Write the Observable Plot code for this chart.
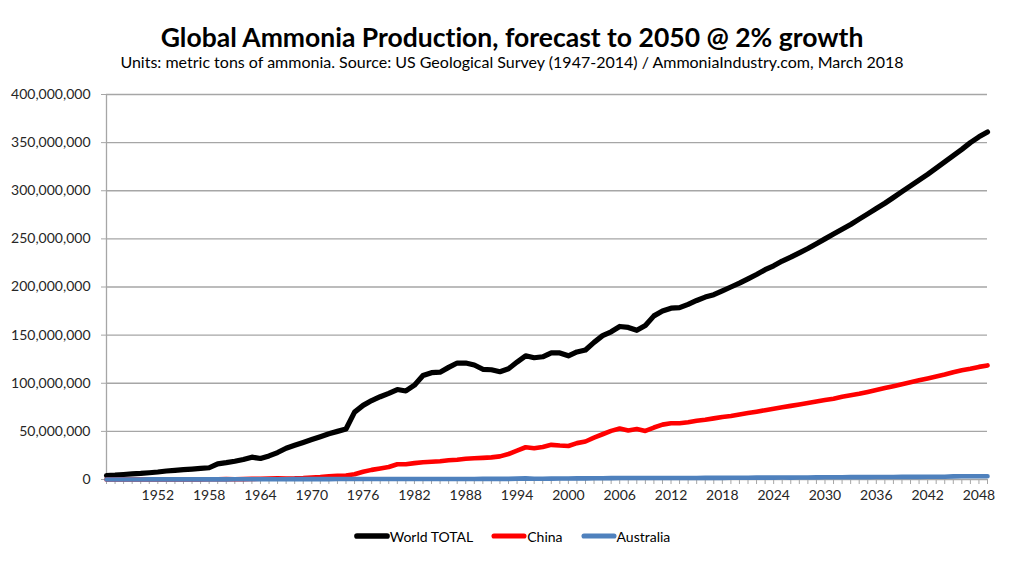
<!DOCTYPE html>
<html>
<head>
<meta charset="utf-8">
<script src="https://cdn.jsdelivr.net/npm/d3@7"></script>
<script src="https://cdn.jsdelivr.net/npm/@observablehq/plot@0.6"></script>
<style>
  html, body { margin: 0; padding: 0; background: #fff; }
  body { width: 1024px; height: 564px; overflow: hidden; font-family: Lato, "Open Sans", sans-serif; color: #000; font-variant-ligatures: none; }
  #header { position: relative; height: 78px; }
  #title { position: absolute; left: 0; right: 0; top: 22px; text-align: center; font-weight: bold; font-size: 26.5px; line-height: 30px; }
  #subtitle { position: absolute; left: 0; right: 0; top: 52px; text-align: center; font-size: 16px; line-height: 20px; }
  #chart svg { display: block; font-variant-ligatures: none; }
  #legend { display: flex; justify-content: center; align-items: center; gap: 18px; height: 36px; font-size: 14px; margin-top: 0px; }
  .item { display: flex; align-items: center; }
  .item svg { display: block; }
</style>
</head>
<body>
<div id="header">
  <div id="title">Global Ammonia Production, forecast to 2050 @ 2% growth</div>
  <div id="subtitle">Units: metric tons of ammonia. Source: US Geological Survey (1947-2014) / AmmoniaIndustry.com, March 2018</div>
</div>
<div id="chart"></div>
<div id="legend"></div>
<script>
// Categories: one per year on the axis
const firstYear = 1946;
const lastYear = 2049;
const years = d3.range(firstYear, lastYear + 1);

// Tick labels
const xTickLabels = [1952, 1958, 1964, 1970, 1976, 1982, 1988, 1994, 2000, 2006, 2012, 2018, 2024, 2030, 2036, 2042, 2048];
const yTicks = [0, 50000000, 100000000, 150000000, 200000000, 250000000, 300000000, 350000000, 400000000];

// Series (millions of metric tons), 1946..2049
const worldTotal = [
  4.0, 4.5, 5.2, 5.8, 6.3, 7.0, 7.8, 8.8, 9.5, 10.2,
  10.8, 11.5, 12.2, 16.3, 17.5, 19.0, 20.8, 23.2, 21.8, 24.5,
  28.0, 32.5, 35.5, 38.5, 41.5, 44.5, 47.5, 50.0, 52.5, 70.0,
  77.0, 82.0, 86.0, 89.5, 93.5, 92.0, 98.0, 108.0, 111.0, 111.5,
  116.5, 121.0, 121.0, 119.0, 114.5, 114.0, 112.0, 115.0, 122.0, 128.5,
  126.5, 127.5, 131.5, 131.5, 128.5, 132.5, 134.5, 142.5, 149.5, 153.5,
  159.0, 158.0, 155.0, 160.0, 170.0, 175.0, 178.0, 178.5, 182.0, 186.0,
  189.5, 192.0, 196.0, 200.0, 204.0, 208.5, 213.0, 218.0, 222.0, 227.0,
  231.0, 235.5, 240.0, 245.0, 250.0, 255.0, 260.0, 265.0, 270.5, 276.0,
  281.5, 287.0, 293.0, 299.0, 305.0, 311.0, 317.0, 323.5, 330.0, 336.5,
  343.0, 350.0, 356.0, 361.0
];
const china = [
  0, 0, 0.01, 0.01, 0.02, 0.03, 0.04, 0.05, 0.06, 0.08,
  0.1, 0.15, 0.2, 0.3, 0.4, 0.3, 0.4, 0.6, 0.8, 1.0,
  1.2, 1.1, 1.2, 1.5, 2.0, 2.5, 3.3, 3.8, 4.2, 5.5,
  8.0, 10.0, 11.5, 13.0, 15.8, 15.8, 17.0, 18.0, 18.5, 19.0,
  20.0, 20.5, 21.5, 22.0, 22.5, 23.0, 24.0, 26.5, 30.0, 33.5,
  32.5, 33.8, 36.0, 35.3, 34.8, 37.8, 39.5, 43.5, 47.0, 50.5,
  53.0, 51.0, 52.5, 50.5, 54.0, 57.0, 58.5, 58.5, 59.5, 61.0,
  62.0, 63.5, 65.0, 66.0, 67.5, 69.0, 70.5, 72.0, 73.5, 75.0,
  76.5, 78.0, 79.5, 81.0, 82.5, 84.0, 86.0, 87.5, 89.0, 91.0,
  93.0, 95.0, 97.0, 99.0, 101.0, 103.0, 105.0, 107.0, 109.0, 111.5,
  113.5, 115.0, 117.0, 118.5
];
const australia = [
  0.05, 0.05, 0.06, 0.06, 0.07, 0.08, 0.08, 0.09, 0.1, 0.1,
  0.12, 0.13, 0.14, 0.15, 0.17, 0.19, 0.2, 0.22, 0.25, 0.28,
  0.3, 0.32, 0.35, 0.38, 0.4, 0.42, 0.44, 0.45, 0.46, 0.45,
  0.46, 0.47, 0.48, 0.5, 0.5, 0.5, 0.52, 0.53, 0.55, 0.55,
  0.56, 0.57, 0.58, 0.58, 0.6, 0.6, 0.62, 0.65, 0.9, 1.2,
  0.8, 0.8, 0.9, 1.0, 1.1, 1.2, 1.2, 1.3, 1.3, 1.4,
  1.5, 1.5, 1.5, 1.5, 1.5, 1.5, 1.6, 1.6, 1.6, 1.6,
  1.7, 1.7, 1.7, 1.8, 1.8, 1.8, 1.9, 1.9, 1.9, 2.0,
  2.0, 2.1, 2.1, 2.2, 2.4, 2.4, 2.4, 2.5, 2.5, 2.5,
  2.6, 2.6, 2.6, 2.7, 2.7, 2.7, 2.8, 2.8, 2.9, 3.2,
  3.3, 3.3, 3.4, 3.4
];

const seriesNames = ["World TOTAL", "China", "Australia"];
const seriesColors = ["#000000", "#ff0000", "#4f81bd"];
const seriesWidths = [5.2, 4.6, 4.6];
const seriesValues = [worldTotal, china, australia];

const tables = seriesValues.map((vals, s) =>
  years.map((y, i) => ({year: y, value: vals[i] * 1e6, series: seriesNames[s]}))
);

const gridColor = "#a6a6a6";
const textColor = "#262626";

const chart = Plot.plot({
  width: 1024,
  height: 440,
  marginLeft: 106,
  marginRight: 37,
  marginTop: 16,
  marginBottom: 39,
  style: {fontFamily: "Lato, 'Open Sans', sans-serif", fontSize: "14px", color: textColor, background: "#fff"},
  x: {type: "linear", domain: [firstYear, lastYear]},
  y: {domain: [0, 400000000]},
  marks: [
    Plot.gridY(yTicks, {stroke: gridColor, strokeOpacity: 1, strokeWidth: 1.3}),
    Plot.ruleX([firstYear], {stroke: gridColor, strokeWidth: 1.3}),
    Plot.axisY(yTicks, {tickFormat: d3.format(","), tickSize: 5, tickPadding: 11, stroke: gridColor, fill: textColor, fontSize: 14, label: null}),
    Plot.axisX(years, {tickSize: 5, text: null, stroke: gridColor, label: null}),
    Plot.axisX(xTickLabels, {tickSize: 0, tickPadding: 11, tickFormat: d => String(d), fill: textColor, fontSize: 14, label: null}),
    ...tables.map((t, s) => Plot.line(t, {
      x: "year", y: "value",
      stroke: seriesColors[s], strokeWidth: seriesWidths[s],
      strokeLinejoin: "round", strokeLinecap: "round"
    }))
  ]
});
document.getElementById("chart").appendChild(chart);

const legend = document.getElementById("legend");
seriesNames.forEach((name, s) => {
  const item = document.createElement("div");
  item.className = "item";
  item.innerHTML = `<svg width="36" height="10"><line x1="3" y1="5" x2="33" y2="5" stroke="${seriesColors[s]}" stroke-width="${seriesWidths[s] + 0.5}" stroke-linecap="round"/></svg><span>${name}</span>`;
  legend.appendChild(item);
});
</script>
</body>
</html>
